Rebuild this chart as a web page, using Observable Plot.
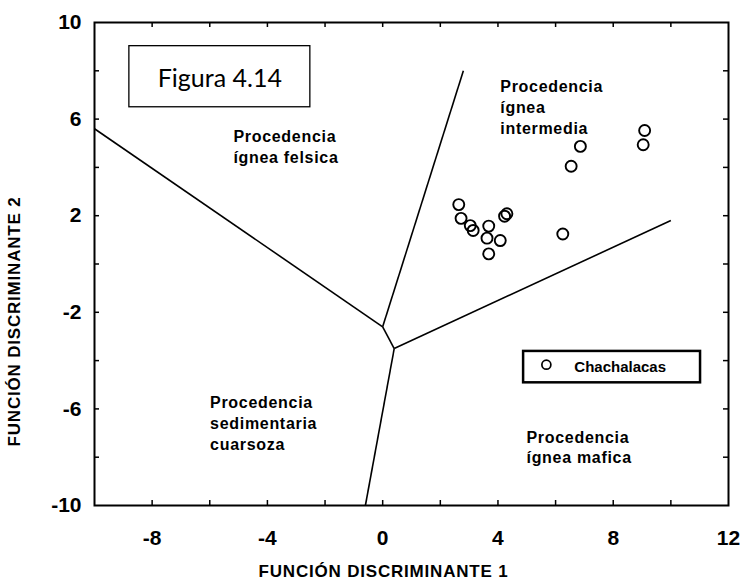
<!DOCTYPE html>
<html><head><meta charset="utf-8">
<script src="https://cdn.jsdelivr.net/npm/d3@7"></script>
<script src="https://cdn.jsdelivr.net/npm/@observablehq/plot@0.6"></script>
<style>body{margin:0;background:#fff}</style>
</head><body><div id="chart"></div>
<script>
// Data: discriminant function scores (Chachalacas samples)
const fd1 = [2.64, 2.72, 3.04, 3.14, 3.68, 3.62, 3.68, 4.08, 4.23, 4.31, 6.25, 6.54, 6.86, 9.04, 9.09];
const fd2 = [2.46, 1.89, 1.59, 1.39, 1.57, 1.07, 0.42, 0.97, 1.98, 2.08, 1.24, 4.05, 4.87, 4.94, 5.53];

// Field boundaries (segment endpoints)
const bx1 = [-10, 0, 0, 0.4, 0.4];
const by1 = [5.6, -2.6, -2.6, -3.5, -3.5];
const bx2 = [0, 2.8, 0.4, 10, -0.6];
const by2 = [-2.6, 8.0, -3.5, 1.8, -10];

// Ticks
const xTickLabels = [-8, -4, 0, 4, 8, 12];
const yTickLabels = [-10, -6, -2, 2, 6, 10];
const xTicks = [-8, -6, -4, -2, 0, 2, 4, 6, 8, 10];
const yTicks = [-8, -6, -4, -2, 0, 2, 4, 6, 8];

// Texts
const regionLabels = ["Procedencia\nígnea felsica", "Procedencia\nígnea\nintermedia", "Procedencia\nsedimentaria\ncuarsoza", "Procedencia\nígnea mafica"];
const seriesName = "Chachalacas";
const figureTitle = "Figura 4.14";
const xTitle = "FUNCIÓN DISCRIMINANTE 1";
const yTitle = "FUNCIÓN DISCRIMINANTE 2";

// Layout (annotation placement in data units)
const regX = [-5.18, 4.08, -5.99, 4.99];
const regY = [5.67, 7.73, -5.37, -6.78];

const W = 740, H = 581, mL = 94, mR = 12, mT = 22, mB = 76;
const fw = W - mL - mR, fh = H - mT - mB, tk = 5;
const FONT = "'Liberation Sans', Arial, sans-serif";
const fmt = d => String(d);

const chart = Plot.plot({
  width: W, height: H,
  marginLeft: mL, marginRight: mR, marginTop: mT, marginBottom: mB,
  style: {fontFamily: FONT, fontWeight: "bold", background: "#fff", color: "#000"},
  x: {domain: [-10, 12]},
  y: {domain: [-10, 10]},
  marks: [
    Plot.axisX({ticks: xTickLabels, tickFormat: fmt, tickSize: 0, tickPadding: 25, fontSize: 21, fontWeight: "bold", label: null}),
    Plot.axisY({ticks: yTickLabels, tickFormat: fmt, tickSize: 0, tickPadding: 13, fontSize: 21, fontWeight: "bold", label: null}),
    // inward ticks on all four sides
    Plot.tickX(xTicks, {x: d => d, insetTop: fh - tk, strokeWidth: 1.5}),
    Plot.tickX(xTicks, {x: d => d, insetBottom: fh - tk, strokeWidth: 1.5}),
    Plot.tickY(yTicks, {y: d => d, insetRight: fw - tk, strokeWidth: 1.5}),
    Plot.tickY(yTicks, {y: d => d, insetLeft: fw - tk, strokeWidth: 1.5}),
    // boundaries
    Plot.link(bx1, {x1: d => d, y1: (d, i) => by1[i], x2: (d, i) => bx2[i], y2: (d, i) => by2[i], stroke: "black", strokeWidth: 1.6}),
    // region labels
    Plot.text(regionLabels, {x: (d, i) => regX[i], y: (d, i) => regY[i], text: d => d, textAnchor: "start", lineAnchor: "top", lineHeight: 1.3, fontSize: 16, fontWeight: "bold", fill: "black"}),
    // figure title box
    Plot.rect([figureTitle], {x1: -8.79, x2: -2.51, y1: 9.02, y2: 6.49, fill: "white", stroke: "black", strokeWidth: 1.3}),
    Plot.text([figureTitle], {x: -5.65, y: 7.65, text: d => d, fontSize: 25, fontWeight: "normal", fontFamily: "Lato, 'Open Sans', sans-serif", fill: "black"}),
    // legend
    Plot.rect([seriesName], {x1: 4.89, x2: 11.03, y1: -3.62, y2: -4.92, fill: "white", stroke: "black", strokeWidth: 2.5}),
    Plot.dot([seriesName], {x: 5.68, y: -4.17, r: 4.5, stroke: "black", strokeWidth: 1.7, fill: "none"}),
    Plot.text([seriesName], {x: 6.65, y: -4.29, text: d => d, textAnchor: "start", fontSize: 15, fontWeight: "bold", fill: "black"}),
    // data
    Plot.dot(fd1, {x: d => d, y: (d, i) => fd2[i], r: 5.5, stroke: "black", strokeWidth: 1.9, fill: "none"}),
    // axis titles
    Plot.text([xTitle], {frameAnchor: "bottom", dx: -28, dy: 66, textAnchor: "middle", lineAnchor: "middle", text: d => d, fontSize: 17, fontWeight: "bold", fill: "black"}),
    Plot.text([yTitle], {frameAnchor: "left", dx: -79.5, dy: 57.5, rotate: -90, textAnchor: "middle", lineAnchor: "middle", text: d => d, fontSize: 17, fontWeight: "bold", fill: "black"}),
    Plot.frame({stroke: "black", strokeWidth: 2})
  ]
});
document.getElementById("chart").appendChild(chart);
chart.querySelectorAll("text").forEach(t => {
  const s = t.textContent;
  if (s.startsWith("Procedencia")) t.style.letterSpacing = "0.7px";
  if (s.startsWith("FUNCI")) t.style.letterSpacing = "0.8px";
});
</script>
</body></html>
